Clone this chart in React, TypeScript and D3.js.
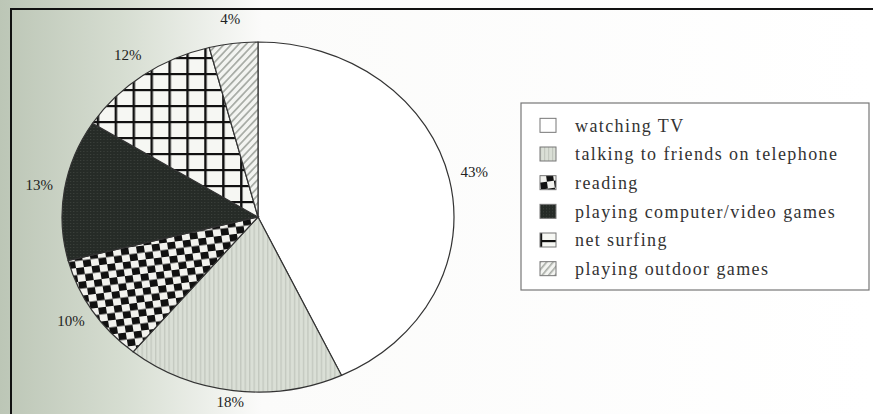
import React from "react";
import * as d3 from "d3";

const activities = [
  "watching TV",
  "talking to friends on telephone",
  "reading",
  "playing computer/video games",
  "net surfing",
  "playing outdoor games",
];
const shares = [43, 18, 10, 13, 12, 4];
const fills = ["#ffffff", "url(#talk)", "url(#checker)", "url(#dark)", "url(#grid)", "url(#hatch)"];

export default function App() {
  const ref = React.useRef<SVGSVGElement>(null);
  const width = 873;
  const height = 414;

  React.useEffect(() => {
    const cx = 258;
    const cy = 217;
    const ry = 175;
    const rx = 196;

    const svg = d3.select(ref.current);
    svg.selectAll("*").remove();

    const defs = svg.append("defs");
    // paper tint on the left side of the scan
    const grad = defs.append("linearGradient").attr("id", "paper").attr("x1", 0).attr("x2", 1);
    grad.append("stop").attr("offset", 0).attr("stop-color", "#bcc6b6");
    grad.append("stop").attr("offset", 0.14).attr("stop-color", "#d6ddd1");
    grad.append("stop").attr("offset", 0.3).attr("stop-color", "#fbfbfa");
    grad.append("stop").attr("offset", 1).attr("stop-color", "#ffffff");

    const talk = defs.append("pattern").attr("id", "talk").attr("patternUnits", "userSpaceOnUse")
      .attr("width", 4).attr("height", 4);
    talk.append("rect").attr("width", 4).attr("height", 4).attr("fill", "#dadfd6");
    talk.append("rect").attr("width", 1.2).attr("height", 4).attr("fill", "#c3c8bf");

    const checker = defs.append("pattern").attr("id", "checker").attr("patternUnits", "userSpaceOnUse")
      .attr("width", 14).attr("height", 14).attr("patternTransform", "rotate(-8)");
    checker.append("rect").attr("width", 14).attr("height", 14).attr("fill", "#f2f2ee");
    checker.append("rect").attr("width", 7).attr("height", 7).attr("fill", "#111");
    checker.append("rect").attr("x", 7).attr("y", 7).attr("width", 7).attr("height", 7).attr("fill", "#111");

    const dark = defs.append("pattern").attr("id", "dark").attr("patternUnits", "userSpaceOnUse")
      .attr("width", 3).attr("height", 3);
    dark.append("rect").attr("width", 3).attr("height", 3).attr("fill", "#262b27");
    dark.append("rect").attr("width", 1).attr("height", 1).attr("fill", "#3d423d");

    const grid = defs.append("pattern").attr("id", "grid").attr("patternUnits", "userSpaceOnUse")
      .attr("width", 16).attr("height", 16);
    grid.append("rect").attr("width", 16).attr("height", 16).attr("fill", "#f6f7f3");
    grid.append("rect").attr("width", 2.2).attr("height", 16).attr("fill", "#111");
    grid.append("rect").attr("width", 16).attr("height", 2.2).attr("fill", "#111");

    const hatch = defs.append("pattern").attr("id", "hatch").attr("patternUnits", "userSpaceOnUse")
      .attr("width", 5).attr("height", 5).attr("patternTransform", "rotate(40)");
    hatch.append("rect").attr("width", 5).attr("height", 5).attr("fill", "#f3f4f1");
    hatch.append("rect").attr("width", 1.6).attr("height", 5).attr("fill", "#a7aba5");

    svg.append("rect").attr("width", width).attr("height", height).attr("fill", "url(#paper)");

    // frame
    svg.append("line").attr("x1", 10).attr("x2", width).attr("y1", 9).attr("y2", 9)
      .attr("stroke", "#111").attr("stroke-width", 2);
    svg.append("line").attr("x1", 11).attr("x2", 11).attr("y1", 9).attr("y2", height)
      .attr("stroke", "#111").attr("stroke-width", 2);

    const pie = d3.pie<number>().sort(null).value((d) => d);
    const arcs = pie(shares);
    const arc = d3.arc<d3.PieArcDatum<number>>().innerRadius(0).outerRadius(ry);

    const g = svg.append("g").attr("transform", `translate(${cx},${cy}) scale(${rx / ry},1)`);
    g.selectAll("path")
      .data(arcs)
      .join("path")
      .attr("d", arc)
      .attr("fill", (d, i) => fills[i])
      .attr("stroke", "#333")
      .attr("stroke-width", 1.2)
      .attr("vector-effect", "non-scaling-stroke");

    // percentage labels outside the pie
    const labelArc = d3.arc<d3.PieArcDatum<number>>().innerRadius(ry * 1.13).outerRadius(ry * 1.13);
    svg.append("g")
      .selectAll("text")
      .data(arcs)
      .join("text")
      .attr("x", (d) => cx + labelArc.centroid(d)[0] * (rx / ry))
      .attr("y", (d) => Math.min(cy + labelArc.centroid(d)[1], height - 10))
      .attr("text-anchor", "middle")
      .attr("dominant-baseline", "middle")
      .attr("font-family", "'Liberation Serif', 'DejaVu Serif', serif")
      .attr("font-size", 15)
      .attr("fill", "#222")
      .text((d) => `${d.data}%`);

    // legend
    const lx = 521;
    const ly = 103;
    const lg = svg.append("g");
    lg.append("rect").attr("x", lx).attr("y", ly).attr("width", 348).attr("height", 187)
      .attr("fill", "#fff").attr("stroke", "#777").attr("stroke-width", 1.2);
    const y = d3.scaleBand<string>().domain(activities).range([ly + 8, ly + 180]);
    const rows = lg.selectAll("g.row").data(activities).join("g").attr("class", "row")
      .attr("transform", (d) => `translate(${lx + 19},${y(d)! + y.bandwidth() / 2})`);
    rows.append("rect").attr("x", 0).attr("y", -7).attr("width", 16).attr("height", 14)
      .attr("fill", (d, i) => fills[i]).attr("stroke", "#777").attr("stroke-width", 1);
    rows.append("text").attr("x", 35).attr("dy", "0.35em")
      .attr("font-family", "'Liberation Serif', 'DejaVu Serif', serif")
      .attr("font-size", 18).attr("letter-spacing", 1.4).attr("fill", "#333")
      .text((d) => d);
  }, []);

  return <svg ref={ref} width={width} height={height} style={{ position: "absolute", left: 0, top: 0 }} />;
}
